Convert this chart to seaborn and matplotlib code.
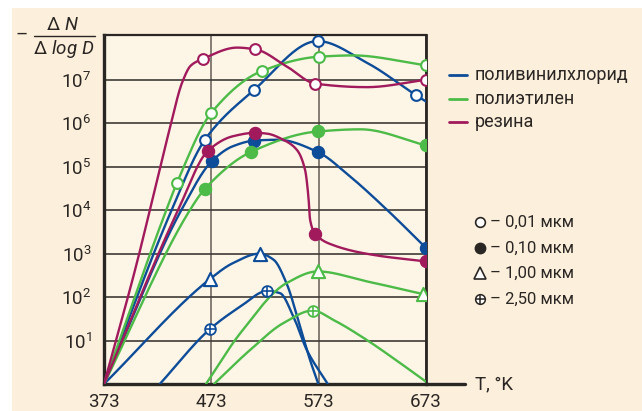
import numpy as np
import matplotlib
matplotlib.use('Agg')
import matplotlib.pyplot as plt
import seaborn as sns
from matplotlib.lines import Line2D
from matplotlib.patches import Rectangle
from matplotlib.ticker import NullLocator

# temperature axis, K
x_ticks = [373, 473, 573, 673]
# decades shown on y axis (log10 of -dN/dlogD)
y_decades = [1, 2, 3, 4, 5, 6, 7]

# curve knots: T (K) and log10(-dN/dlogD)
# mk = indices of knots that carry a marker
# поливинилхлорид
pvc_a_t = [373, 436, 467, 513, 572, 618, 664, 673]
pvc_a_lg = [0, 4.0, 5.62, 6.77, 7.89, 7.39, 6.64, 6.50]
pvc_a_mk = [2, 3, 4, 6]
pvc_b_t = [373, 445, 474, 493, 513, 535, 572, 602, 637, 673]
pvc_b_lg = [0, 4.0, 5.14, 5.47, 5.60, 5.62, 5.34, 4.78, 4.0, 3.13]
pvc_b_mk = [2, 4, 6, 9]
pvc_c_t = [373, 472, 493, 518, 531, 543, 555.7, 565, 572.7]
pvc_c_lg = [0, 2.42, 2.78, 3.0, 2.86, 2.32, 1.32, 0.55, 0]
pvc_c_mk = [1, 3]
pvc_d_t = [425, 472, 500, 525, 537, 549.5, 562, 581.5]
pvc_d_lg = [0, 1.27, 1.78, 2.14, 2.09, 1.55, 0.78, 0]
pvc_d_mk = [1, 3]
# полиэтилен
pe_a_t = [373, 431, 441, 473, 520, 573, 605, 673]
pe_a_lg = [0, 4.0, 4.63, 6.24, 7.20, 7.53, 7.56, 7.33]
pe_a_mk = [2, 3, 4, 5, 7]
pe_b_t = [373, 453, 467, 510, 572, 612, 673]
pe_b_lg = [0, 4.0, 4.49, 5.34, 5.81, 5.86, 5.49]
pe_b_mk = [2, 3, 4, 6]
pe_c_t = [468, 500, 543, 572, 618, 670]
pe_c_lg = [0, 1.17, 2.32, 2.59, 2.36, 2.07]
pe_c_mk = [3, 5]
pe_d_t = [475.5, 509, 540, 567.5, 587, 618, 649, 676]
pe_d_lg = [0, 0.78, 1.40, 1.69, 1.47, 1.01, 0.48, 0]
pe_d_mk = [3]
# резина
rub_a_t = [373, 402, 434, 446, 454, 465, 497, 514, 543, 570, 618, 673]
rub_a_lg = [0, 2.63, 5.85, 6.95, 7.33, 7.48, 7.74, 7.70, 7.31, 6.91, 6.83, 7.0]
rub_a_mk = [5, 7, 9, 11]
rub_b_t = [373, 442, 470, 493, 514, 525, 540, 552.6, 560.3, 563.4, 565, 569.6, 586, 624, 673]
rub_b_lg = [0, 4.0, 5.37, 5.70, 5.78, 5.76, 5.62, 5.39, 4.93, 4.32, 3.78, 3.46, 3.20, 2.97, 2.82]
rub_b_mk = [2, 4, 11, 14]

materials = ['поливинилхлорид', 'полиэтилен', 'резина']
sizes = ['– 0,01 мкм', '– 0,10 мкм', '– 1,00 мкм', '– 2,50 мкм']

BLUE = '#0d4c98'
GREEN = '#4cbb47'
MAG = '#a01a5c'
INK = '#2a2624'

W, H = 642, 411


def fx(px):
    return px / W


def fy(py):
    return 1 - py / H


def smooth(x, y, n=1500):
    # monotone cubic (Fritsch-Carlson) through the read knots
    x = np.asarray(x, float)
    y = np.asarray(y, float)
    h = np.diff(x)
    d = np.diff(y) / h
    m = np.zeros_like(y)
    m[0], m[-1] = d[0], d[-1]
    for k in range(1, len(x) - 1):
        if d[k - 1] * d[k] > 0:
            w1 = 2 * h[k] + h[k - 1]
            w2 = h[k] + 2 * h[k - 1]
            m[k] = (w1 + w2) / (w1 / d[k - 1] + w2 / d[k])
    xs = np.linspace(x[0], x[-1], n)
    i = np.clip(np.searchsorted(x, xs, side='right') - 1, 0, len(x) - 2)
    t = (xs - x[i]) / h[i]
    h00 = 2 * t**3 - 3 * t**2 + 1
    h10 = t**3 - 2 * t**2 + t
    h01 = -2 * t**3 + 3 * t**2
    h11 = t**3 - t**2
    ys = h00 * y[i] + h10 * h[i] * m[i] + h01 * y[i + 1] + h11 * h[i] * m[i + 1]
    return xs, ys


sns.set_style('white')
plt.rcParams['font.family'] = ['Roboto', 'DejaVu Sans']
plt.rcParams['mathtext.fontset'] = 'custom'
plt.rcParams['mathtext.rm'] = 'Roboto'
plt.rcParams['mathtext.it'] = 'Roboto:italic'
plt.rcParams['mathtext.bf'] = 'Roboto:bold'

fig = plt.figure(figsize=(6.42, 4.11), dpi=100, facecolor='white')
fig.add_artist(Rectangle((fx(12), 0), 1, fy(8), transform=fig.transFigure,
                         facecolor='#fcefdb', edgecolor='none', zorder=-10))
ax = fig.add_axes([fx(104), fy(384), fx(426) - fx(104), fy(35) - fy(384)])
ax.set_facecolor('#fdf5e6')
ax.set_yscale('log')

curves = [
    (pvc_a_t, pvc_a_lg, pvc_a_mk, BLUE, 'open'),
    (pvc_b_t, pvc_b_lg, pvc_b_mk, BLUE, 'fill'),
    (pvc_c_t, pvc_c_lg, pvc_c_mk, BLUE, 'tri'),
    (pvc_d_t, pvc_d_lg, pvc_d_mk, BLUE, 'cross'),
    (pe_a_t, pe_a_lg, pe_a_mk, GREEN, 'open'),
    (pe_b_t, pe_b_lg, pe_b_mk, GREEN, 'fill'),
    (pe_c_t, pe_c_lg, pe_c_mk, GREEN, 'tri'),
    (pe_d_t, pe_d_lg, pe_d_mk, GREEN, 'cross'),
    (rub_a_t, rub_a_lg, rub_a_mk, MAG, 'open'),
    (rub_b_t, rub_b_lg, rub_b_mk, MAG, 'fill'),
]

for t, lg, mk, col, kind in curves:
    xs, ys = smooth(t, lg)
    sns.lineplot(x=xs, y=10**ys, ax=ax, color=col, lw=1.7, sort=False,
                 estimator=None, legend=False, zorder=3)
    mx = [t[i] for i in mk]
    my = [10**lg[i] for i in mk]
    if kind == 'open':
        sns.scatterplot(x=mx, y=my, ax=ax, marker='o', s=60, color='white',
                        edgecolor=col, linewidth=1.5, legend=False, zorder=5)
    elif kind == 'fill':
        sns.scatterplot(x=mx, y=my, ax=ax, marker='o', s=75, color=col,
                        edgecolor=col, linewidth=1, legend=False, zorder=5)
    elif kind == 'tri':
        sns.scatterplot(x=mx, y=my, ax=ax, marker='^', s=90, color='white',
                        edgecolor=col, linewidth=1.5, legend=False, zorder=5)
    else:
        sns.scatterplot(x=mx, y=my, ax=ax, marker='o', s=60, color='white',
                        edgecolor=col, linewidth=1.3, legend=False, zorder=5)
        ax.scatter(mx, my, marker='+', s=55, color=col, linewidth=1.2, zorder=6)

ax.set_xlim(x_ticks[0], x_ticks[-1])
ax.set_ylim(1, 10**8.03)
ax.set_xticks(x_ticks)
ax.set_xticklabels([str(v) for v in x_ticks], fontsize=13.5, color=INK)
ax.set_yticks([10**k for k in y_decades])
ax.set_yticklabels([r'$\mathregular{10^{%d}}$' % k for k in y_decades],
                   fontsize=13.5, color=INK)
ax.yaxis.set_minor_locator(NullLocator())
ax.tick_params(axis='x', length=0, pad=6.5)
ax.tick_params(axis='y', length=0, pad=9)
ax.set_xlabel('')
ax.set_ylabel('')

ax.xaxis.grid(True, color='#857c74', lw=1.4)
ax.yaxis.grid(True, color='#3f3a36', lw=1.2)
ax.set_axisbelow(True)

for side, lw in [('left', 2.4), ('bottom', 2.4), ('right', 2.0), ('top', 1.6)]:
    ax.spines[side].set_color(INK)
    ax.spines[side].set_linewidth(lw)

# axis extension and label
fig.add_artist(Line2D([fx(425), fx(465)], [fy(384), fy(384)], color=INK,
                      lw=2.4, transform=fig.transFigure))
fig.text(fx(475), fy(384), 'T, °K', fontsize=13.5, color=INK, ha='left', va='center')

# y label as fraction
fig.text(fx(22), fy(35), '–', fontsize=13.5, color=INK, ha='center', va='center')
fig.text(fx(63), fy(25), r'$\Delta\ N$', fontsize=13.5, color=INK, ha='center', va='center')
fig.add_artist(Line2D([fx(34), fx(95)], [fy(36), fy(36)], color=INK, lw=1.0,
                      transform=fig.transFigure))
fig.text(fx(64), fy(49), r'$\Delta\ log\ D$', fontsize=13.5, color=INK, ha='center', va='center')

# material legend
for name, col, yy in zip(materials, [BLUE, GREEN, MAG], [75, 99, 122]):
    fig.add_artist(Line2D([fx(449), fx(467)], [fy(yy), fy(yy)], color=col, lw=2,
                          transform=fig.transFigure))
    fig.text(fx(475), fy(yy), name, fontsize=13, color=INK, ha='left', va='center')

# particle size legend
leg_y = [222, 248, 273, 299]
for lab, yy, kind in zip(sizes, leg_y, ['open', 'fill', 'tri', 'cross']):
    if kind == 'open':
        fig.add_artist(Line2D([fx(480)], [fy(yy)], marker='o', ms=7, mfc='white',
                              mec=INK, mew=1.2, transform=fig.transFigure))
    elif kind == 'fill':
        fig.add_artist(Line2D([fx(480)], [fy(yy)], marker='o', ms=7.5, mfc=INK,
                              mec=INK, transform=fig.transFigure))
    elif kind == 'tri':
        fig.add_artist(Line2D([fx(480)], [fy(yy)], marker='^', ms=8, mfc='white',
                              mec=INK, mew=1.2, transform=fig.transFigure))
    else:
        fig.add_artist(Line2D([fx(480)], [fy(yy)], marker='o', ms=7, mfc='white',
                              mec=INK, mew=1.1, transform=fig.transFigure))
        fig.add_artist(Line2D([fx(480)], [fy(yy)], marker='+', ms=7, mec=INK,
                              mew=1.1, transform=fig.transFigure))
    fig.text(fx(490), fy(yy), lab, fontsize=12, color=INK, ha='left', va='center')

fig.savefig('out.png', dpi=100, facecolor='white')
